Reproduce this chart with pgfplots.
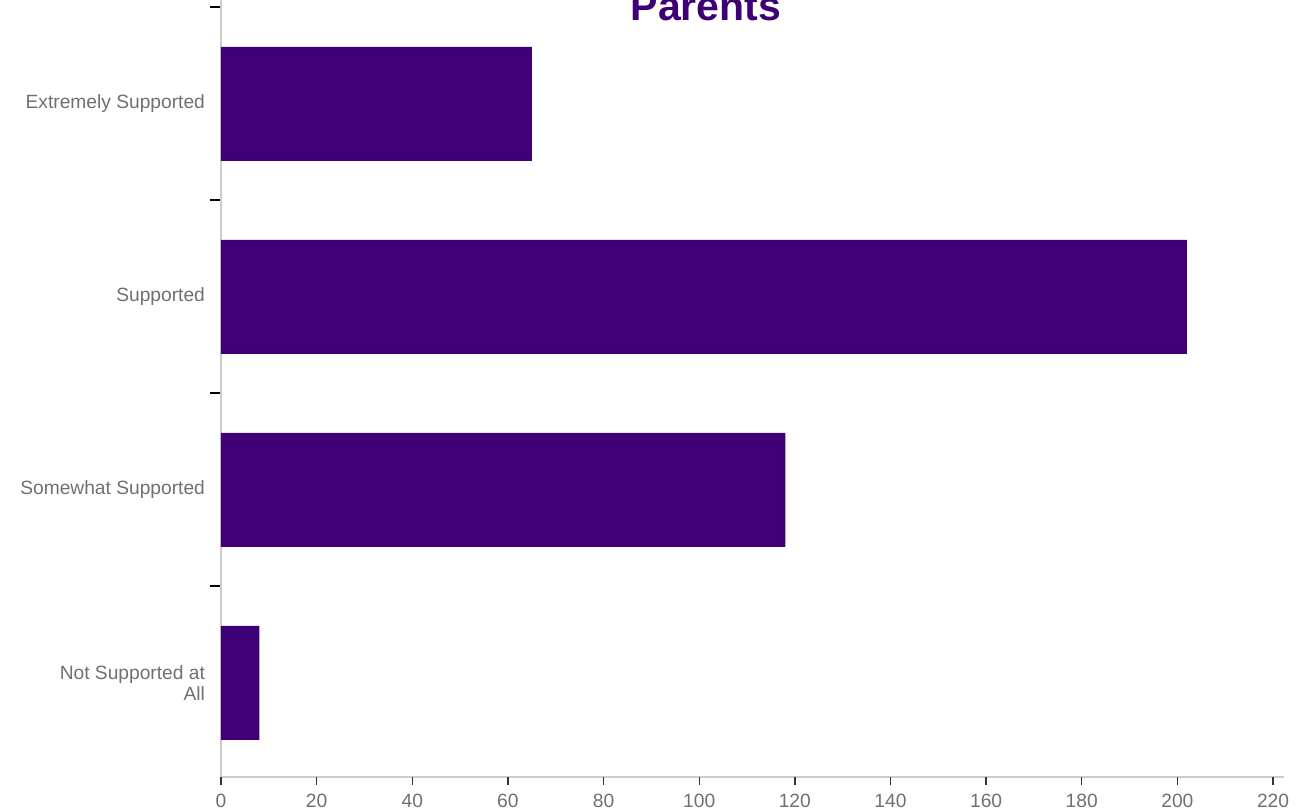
\documentclass[border=0pt]{standalone}
\usepackage{fontspec}
\setmainfont{Liberation Sans}
\usepackage{pgfplots}
\pgfplotsset{compat=1.18}
\definecolor{barpurple}{HTML}{3E0074}
\definecolor{labgray}{HTML}{707070}
\definecolor{axgray}{HTML}{CCCCCC}
\begin{document}
\begin{tikzpicture}
\begin{axis}[
  at={(0,0)}, anchor=south west,
  x=2.391pt, y=96.5pt,
  xmin=0, xmax=222.2, ymin=-0.488, ymax=3.62,
  axis x line=bottom, axis y line=left,
  axis line style={-, draw=axgray, line width=0.6pt},
  xbar, bar width=57pt,
  major tick length=5.5pt,
  tick align=outside,
  xtick=\empty,
  extra x ticks={0,20,...,220},
  extra x tick style={grid=none, major tick length=4pt, tick style={draw=black!80, line width=0.7pt}},
  ytick={0.5,1.5,2.5,3.5},
  yticklabels={},
  y tick style={draw=black, line width=1pt},
  extra y ticks={0,1,2,3},
  extra y tick labels={{Not Supported at\\All},{Somewhat Supported},{Supported},{Extremely Supported}},
  extra y tick style={grid=none, major tick length=0pt},
  yticklabel style={align=right, font=\fontsize{9.6}{10.5}\selectfont, text=labgray, xshift=-4.5pt},
  xticklabel style={font=\fontsize{9.6}{10.5}\selectfont, text=labgray, yshift=-1pt},
  /pgf/number format/assume math mode=true,
  clip=false,
]
\addplot[fill=barpurple, draw=none] coordinates {(8,0) (118,1) (202,2) (65,3)};
\end{axis}
\node[anchor=base, font=\fontsize{20.5}{22}\selectfont\bfseries, text=barpurple] at (242.5pt,378pt) {Parents};
\pgfresetboundingbox
\useasboundingbox (-110.5pt,-17.5pt) rectangle (541pt,388.5pt);
\end{tikzpicture}
\end{document}
